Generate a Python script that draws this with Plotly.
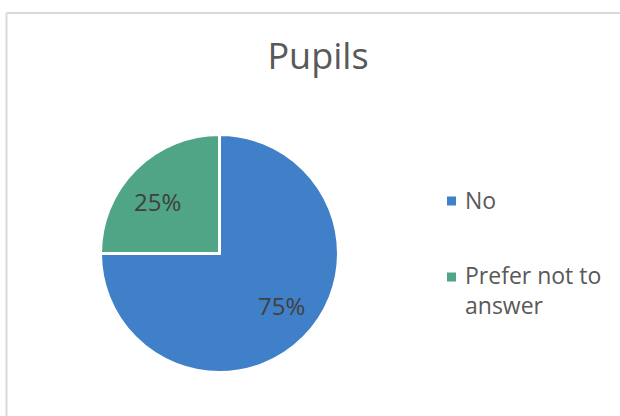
import math
import plotly.graph_objects as go

categories = ["No", "Prefer not to answer"]
legend_labels = ["No", "Prefer not to<br>answer"]
values = [75, 25]
colors = ["#4080C8", "#4FA585"]

W, H = 620, 416
FONT = "Open Sans"

# pie geometry (pixels)
cx, cy, R = 219.5, 253.5, 119.0

fig = go.Figure()
fig.add_trace(go.Pie(
    labels=categories,
    values=values,
    sort=False,
    direction="clockwise",
    rotation=0,
    marker=dict(colors=colors, line=dict(color="white", width=3)),
    textinfo="none",
    domain=dict(x=[(cx - R) / W, (cx + R) / W], y=[1 - (cy + R) / H, 1 - (cy - R) / H]),
    showlegend=False,
    hoverinfo="label+percent",
))

# percentage labels placed near each slice's bisector
total = sum(values)
cum = 0.0
for v in values:
    mid = (cum + v / 2) / total
    cum += v
    th = 2 * math.pi * mid - math.radians(5)
    rr = 0.675 * R
    px = cx + rr * math.sin(th)
    py = cy - rr * math.cos(th)
    fig.add_annotation(xref="paper", yref="paper", x=px / W, y=1 - py / H,
                       xanchor="center", yanchor="middle", showarrow=False,
                       text=f"{round(100 * v / total)}%",
                       font=dict(family=FONT, size=24, color="#404040"))

# border frame
fig.add_shape(type="line", xref="paper", yref="paper",
              x0=6.5 / W, x1=1.01, y0=1 - 13 / H, y1=1 - 13 / H,
              line=dict(color="#D9D9D9", width=2))
fig.add_shape(type="line", xref="paper", yref="paper",
              x0=6.5 / W, x1=6.5 / W, y0=1 - 13 / H, y1=-0.01,
              line=dict(color="#D9D9D9", width=2))

# custom legend
sq_centers = [201, 277]
txt_centers = [200, 290]
for lab, col, sy, ty in zip(legend_labels, colors, sq_centers, txt_centers):
    fig.add_shape(type="rect", xref="paper", yref="paper",
                  x0=447 / W, x1=456 / W,
                  y0=1 - (sy + 4.5) / H, y1=1 - (sy - 4.5) / H,
                  fillcolor=col, line=dict(width=0))
    fig.add_annotation(xref="paper", yref="paper", x=463 / W, y=1 - ty / H,
                       xanchor="left", yanchor="middle", align="left",
                       text=lab, showarrow=False,
                       font=dict(family=FONT, size=23, color="#595959"))

fig.update_layout(
    width=W, height=H,
    margin=dict(l=0, r=0, t=0, b=0),
    paper_bgcolor="white",
    plot_bgcolor="white",
    title=dict(text="Pupils", x=318 / W, xanchor="center", y=1 - 56 / H, yanchor="middle",
               font=dict(family=FONT, size=36, color="#595959")),
)

fig.write_html("out.html", config={"displayModeBar": False},
               post_script="document.body.style.margin='0';")
